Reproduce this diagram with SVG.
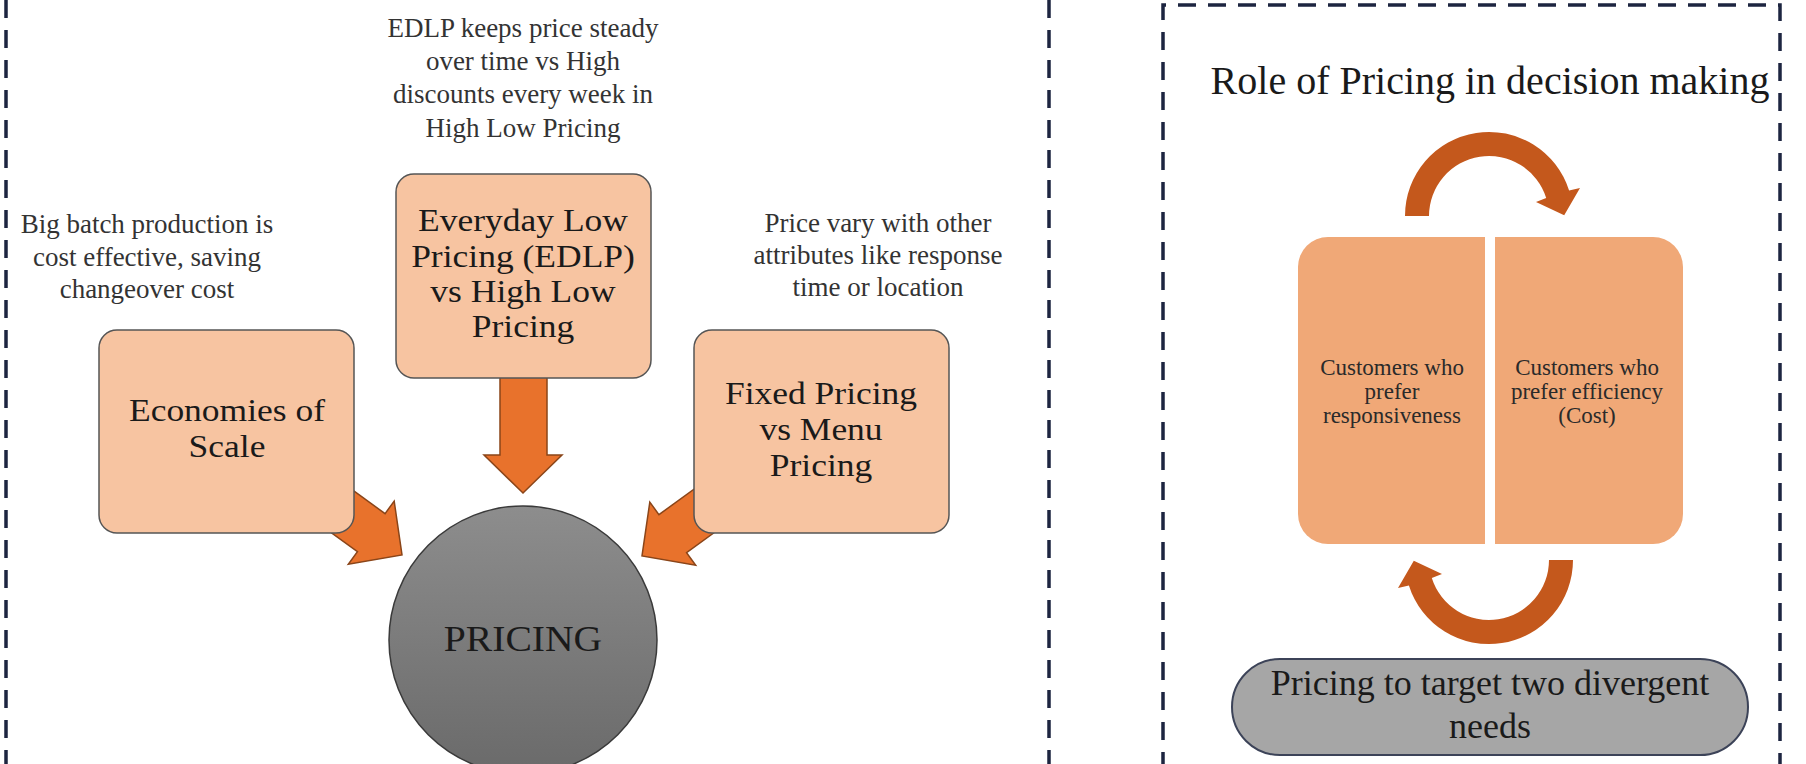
<svg xmlns="http://www.w3.org/2000/svg" width="1806" height="764" viewBox="0 0 1806 764">
<defs>
<style>
.frame{fill:none;stroke:#1d2540;stroke-width:3.5;stroke-dasharray:18 12}
.note{font-family:"Liberation Serif","Times New Roman",serif;font-size:27px;fill:#333;text-anchor:middle}
.box{fill:#f7c4a1;stroke:#555;stroke-width:1.5}
.btxt{font-family:"Liberation Serif","Times New Roman",serif;font-size:31px;fill:#1a1a1a;text-anchor:middle}
.blk{fill:#e8722c;stroke:#8a4519;stroke-width:1.5;stroke-linejoin:miter}
.curve{fill:#c4581c}
.seg{fill:#f0a877}
.stxt{font-family:"Liberation Serif","Times New Roman",serif;font-size:23px;fill:#2a2a2a;text-anchor:middle}
.title{font-family:"Liberation Serif","Times New Roman",serif;font-size:40px;fill:#1a1a1a;text-anchor:middle}
.ptxt{font-family:"Liberation Serif","Times New Roman",serif;font-size:36px;fill:#1a1a1a;text-anchor:middle}
</style>
<linearGradient id="gray" x1="0" y1="0" x2="0" y2="1">
<stop offset="0" stop-color="#8d8d8d"/>
<stop offset="1" stop-color="#6a6a6a"/>
</linearGradient>
<path id="blockArrow" d="M -100 -23.5 L -38 -23.5 L -38 -39 L 0 0 L -38 39 L -38 23.5 L -100 23.5 Z"/>
<path id="curveArrow" d="M -84 0 A 84 84 0 0 1 80.1 -25.4 L 91 -28 L 75.2 -0.8 L 47 -14 L 57.2 -18.1 A 60 60 0 0 0 -60 0 Z"/>
</defs>
<rect width="1806" height="764" fill="#ffffff"/>

<g id="frames">
<line class="frame" x1="6" y1="0" x2="6" y2="770"/>
<line class="frame" x1="1049" y1="0" x2="1049" y2="770"/>
<path class="frame" d="M 1163 770 V 5 H 1780 V 770"/>
</g>

<g id="connectors">
<use href="#blockArrow" class="blk" transform="translate(402 555) rotate(36)"/>
<use href="#blockArrow" class="blk" transform="translate(642 556) rotate(144)"/>
<path class="blk" d="M 500 370 H 547 V 455 H 562 L 523 493 L 484 455 H 500 Z"/>
<use href="#curveArrow" class="curve" transform="translate(1489 216)"/>
<use href="#curveArrow" class="curve" transform="translate(1489 560) rotate(180)"/>
</g>

<g id="note-edlp">
<text class="note" x="523" y="37">EDLP keeps price steady</text>
<text class="note" x="523" y="70">over time vs High</text>
<text class="note" x="523" y="103">discounts every week in</text>
<text class="note" x="523" y="137">High Low Pricing</text>
</g>
<g id="note-batch">
<text class="note" x="147" y="233">Big batch production is</text>
<text class="note" x="147" y="266">cost effective, saving</text>
<text class="note" x="147" y="298">changeover cost</text>
</g>
<g id="note-price">
<text class="note" x="878" y="232">Price vary with other</text>
<text class="note" x="878" y="264">attributes like response</text>
<text class="note" x="878" y="296">time or location</text>
</g>

<g id="node-economies">
<rect class="box" x="99" y="330" width="255" height="203" rx="18"/>
<g transform="translate(227 0) scale(1.145 1)">
<text class="btxt" x="0" y="421">Economies of</text>
<text class="btxt" x="0" y="457">Scale</text>
</g>
</g>
<g id="node-edlp">
<rect class="box" x="396" y="174" width="255" height="204" rx="18"/>
<g transform="translate(523 0) scale(1.145 1)">
<text class="btxt" x="0" y="231">Everyday Low</text>
<text class="btxt" x="0" y="267">Pricing (EDLP)</text>
<text class="btxt" x="0" y="302">vs High Low</text>
<text class="btxt" x="0" y="337">Pricing</text>
</g>
</g>
<g id="node-fixed">
<rect class="box" x="694" y="330" width="255" height="203" rx="18"/>
<g transform="translate(821 0) scale(1.145 1)">
<text class="btxt" x="0" y="404">Fixed Pricing</text>
<text class="btxt" x="0" y="440">vs Menu</text>
<text class="btxt" x="0" y="476">Pricing</text>
</g>
</g>
<g id="node-pricing">
<circle cx="523" cy="640" r="134" fill="url(#gray)" stroke="#3a3a3a" stroke-width="1.5"/>
<g transform="translate(523 0) scale(1.1 1)">
<text class="btxt" x="0" y="651" style="font-size:36px">PRICING</text>
</g>
</g>

<g id="title">
<text class="title" x="1490" y="94">Role of Pricing in decision making</text>
</g>
<g id="node-responsive">
<path class="seg" d="M 1328 237 H 1485 V 544 H 1328 A 30 30 0 0 1 1298 514 V 267 A 30 30 0 0 1 1328 237 Z"/>
<text class="stxt" x="1392" y="375">Customers who</text>
<text class="stxt" x="1392" y="399">prefer</text>
<text class="stxt" x="1392" y="423">responsiveness</text>
</g>
<g id="node-efficiency">
<path class="seg" d="M 1495 237 H 1653 A 30 30 0 0 1 1683 267 V 514 A 30 30 0 0 1 1653 544 H 1495 Z"/>
<text class="stxt" x="1587" y="375">Customers who</text>
<text class="stxt" x="1587" y="399">prefer efficiency</text>
<text class="stxt" x="1587" y="423">(Cost)</text>
</g>
<g id="node-target">
<rect x="1232" y="659" width="516" height="96" rx="48" fill="#a6a6a6" stroke="#3c4358" stroke-width="2"/>
<text class="ptxt" x="1490" y="695">Pricing to target two divergent</text>
<text class="ptxt" x="1490" y="738">needs</text>
</g>
</svg>
